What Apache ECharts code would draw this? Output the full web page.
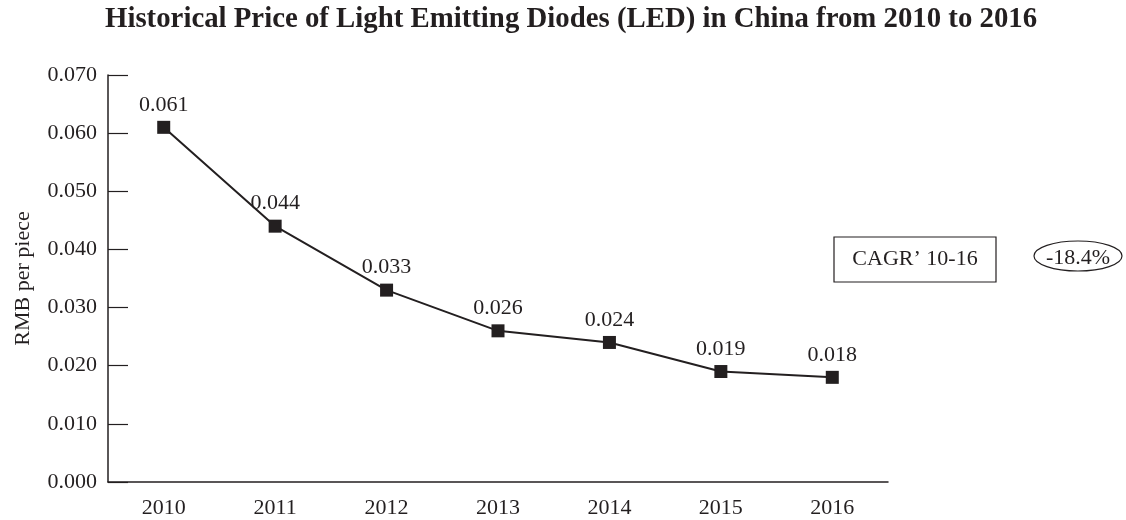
<!DOCTYPE html>
<html>
<head>
<meta charset="utf-8">
<script src="https://cdn.jsdelivr.net/npm/echarts@6/dist/echarts.min.js"></script>
<style>
  html, body { margin: 0; padding: 0; background: #fff; }
  #chart { width: 1126px; height: 520px; }
</style>
</head>
<body>
<div id="chart"></div>
<script>
// LED price per piece in China, 2010–2016
const years = ['2010', '2011', '2012', '2013', '2014', '2015', '2016'];
const prices = [0.061, 0.044, 0.033, 0.026, 0.024, 0.019, 0.018];
const cagrLabel = 'CAGR\u2019 10-16';
const cagrValue = '-18.4%';

const serif = '"Liberation Serif", "Times New Roman", serif';
const ink = '#231f20';
const fs = 22;

const chart = echarts.init(document.getElementById('chart'), null, { renderer: 'canvas' });

chart.setOption({
  animation: false,
  backgroundColor: '#fff',
  title: {
    text: 'Historical Price of Light Emitting Diodes (LED) in China from 2010 to 2016',
    left: 100,
    top: 0,
    textStyle: { fontFamily: serif, fontWeight: 'bold', fontSize: 28.8, color: ink }
  },
  grid: { left: 108, right: 238, top: 75, bottom: 38 },
  xAxis: {
    type: 'category',
    data: years,
    boundaryGap: true,
    axisLine: { lineStyle: { color: ink, width: 1.5 } },
    axisTick: { inside: true, length: 10, lineStyle: { color: ink, width: 1.2 } },
    axisLabel: { fontFamily: serif, fontSize: fs, color: ink, margin: 15 },
    splitLine: { show: false }
  },
  yAxis: {
    type: 'value',
    min: 0,
    max: 0.07,
    interval: 0.01,
    name: 'RMB per piece',
    nameLocation: 'middle',
    nameGap: 74,
    nameRotate: 90,
    nameTextStyle: { fontFamily: serif, fontSize: fs, color: ink },
    axisLine: { show: true, lineStyle: { color: ink, width: 1.5 } },
    axisTick: { show: true, inside: true, length: 20, lineStyle: { color: ink, width: 1.2 } },
    axisLabel: {
      fontFamily: serif, fontSize: fs, color: ink, margin: 11,
      padding: [10, 0, 0, 0],
      formatter: v => v.toFixed(3)
    },
    splitLine: { show: false }
  },
  series: [{
    type: 'line',
    data: prices,
    symbol: 'rect',
    symbolSize: 13,
    lineStyle: { color: ink, width: 2 },
    itemStyle: { color: ink },
    label: {
      show: true,
      position: 'top',
      distance: 5,
      fontFamily: serif,
      fontSize: fs,
      color: ink,
      formatter: p => p.value.toFixed(3)
    }
  }],
  graphic: [
    {
      type: 'rect',
      shape: { x: 834, y: 237, width: 162, height: 45 },
      style: { fill: '#fff', stroke: ink, lineWidth: 1.2 }
    },
    {
      type: 'text',
      x: 915, y: 259,
      style: {
        text: cagrLabel, fontFamily: serif, fontSize: fs, fill: ink,
        align: 'center', verticalAlign: 'middle'
      }
    },
    {
      type: 'ellipse',
      shape: { cx: 1078, cy: 256, rx: 44, ry: 15 },
      style: { fill: 'none', stroke: ink, lineWidth: 1.2 }
    },
    {
      type: 'text',
      x: 1078, y: 258,
      style: {
        text: cagrValue, fontFamily: serif, fontSize: fs, fill: ink,
        align: 'center', verticalAlign: 'middle'
      }
    }
  ]
});
</script>
</body>
</html>
